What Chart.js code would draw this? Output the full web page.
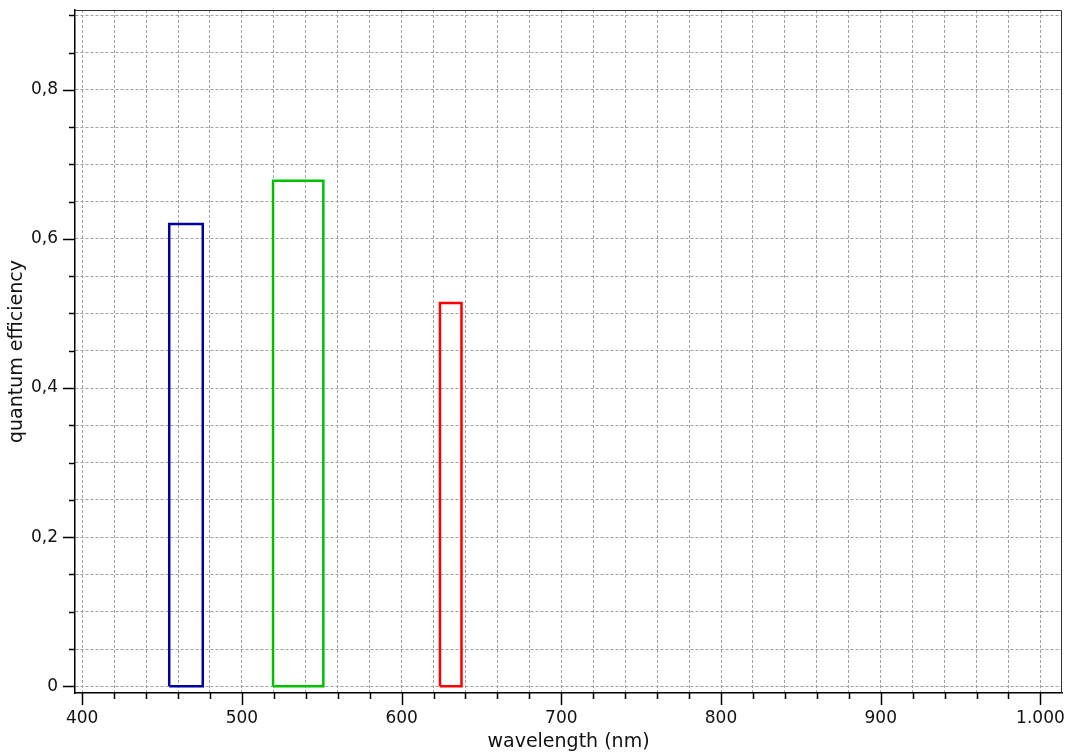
<!DOCTYPE html>
<html>
<head>
<meta charset="utf-8">
<script src="https://cdn.jsdelivr.net/npm/chart.js@4/dist/chart.umd.min.js"></script>
<style>
  html, body { margin: 0; padding: 0; background: #fff; }
  #wrap { width: 1068px; height: 753px; }
</style>
</head>
<body>
<div id="wrap"><canvas id="graphe"></canvas></div>
<script>
// bands : start / end wavelength (nm) and quantum efficiency
var bandStart = [454.5, 519.5, 624];
var bandEnd = [475.5, 551, 637.5];
var efficiency = [0.62, 0.678, 0.514];
var bandColors = ['#0000a0', '#00c000', '#ff0000'];

// tick labels
var xMajorTicks = [400, 500, 600, 700, 800, 900, 1000];
var xTickLabels = ['400', '500', '600', '700', '800', '900', '1.000'];
var yMajorTicks = [0, 0.2, 0.4, 0.6, 0.8];
var yTickLabels = ['0', '0,2', '0,4', '0,6', '0,8'];

var font = "'DejaVu Sans', Verdana, sans-serif";

// grid every 20 nm / 0.05
var xGrid = [];
for (var i = 400; i <= 1000; i += 20) xGrid.push(i);
var yGrid = [];
for (var j = 0; j <= 18; j++) yGrid.push(Math.round(j * 5) / 100);

function isMajor(list, v) {
    for (var k = 0; k < list.length; k++) {
        if (Math.abs(list[k] - v) < 1e-6) return k;
    }
    return -1;
}

//build one closed rectangle per band
var datasets = [];
for (var b = 0; b < bandStart.length; b++) {
    datasets.push({
        data: [
            {x: bandStart[b], y: 0},
            {x: bandStart[b], y: efficiency[b]},
            {x: bandEnd[b], y: efficiency[b]},
            {x: bandEnd[b], y: 0},
            {x: bandStart[b], y: 0}
        ],
        showLine: true,
        borderColor: bandColors[b],
        backgroundColor: bandColors[b],
        borderWidth: 2.5,
        pointRadius: 0,
        tension: 0,
        fill: false
    });
}

// ticks and frame drawn by hand
var frame = {
    id: 'frame',
    afterDraw: function(chart) {
        var ctx = chart.ctx;
        var a = chart.chartArea;
        var xs = chart.scales.x, ys = chart.scales.y;
        ctx.save();
        ctx.strokeStyle = '#000';
        ctx.lineWidth = 1.5;
        ctx.beginPath();
        xGrid.forEach(function(v) {
            var px = Math.round(xs.getPixelForValue(v)) + 0.5;
            var len = isMajor(xMajorTicks, v) >= 0 ? 12 : 6;
            ctx.moveTo(px, a.bottom);
            ctx.lineTo(px, a.bottom + len);
        });
        yGrid.forEach(function(v) {
            var py = Math.round(ys.getPixelForValue(v)) + 0.5;
            var len = isMajor(yMajorTicks, v) >= 0 ? 12 : 6;
            ctx.moveTo(a.left, py);
            ctx.lineTo(a.left - len, py);
        });
        ctx.stroke();
        ctx.lineWidth = 1;
        ctx.strokeStyle = '#333';
        ctx.beginPath();
        ctx.moveTo(a.left, a.top + 0.5);
        ctx.lineTo(a.right - 0.5, a.top + 0.5);
        ctx.lineTo(a.right - 0.5, a.bottom);
        ctx.stroke();
        ctx.restore();
    }
};

var ctx = document.getElementById('graphe').getContext('2d');
var myChart = new Chart(ctx, {
    type: 'scatter',
    data: { datasets: datasets },
    options: {
        responsive: true,
        maintainAspectRatio: false,
        animation: false,
        layout: { padding: { top: 10, right: 6, left: 0, bottom: 0 } },
        plugins: { legend: { display: false }, tooltip: { enabled: false } },
        scales: {
            x: {
                type: 'linear',
                min: 395.5,
                max: 1013.5,
                afterBuildTicks: function(scale) {
                    scale.ticks = xGrid.map(function(v) { return {value: v}; });
                },
                afterFit: function(scale) {
                    scale.height = 60;
                    scale.paddingLeft = 0;
                    scale.paddingRight = 0;
                },
                ticks: {
                    autoSkip: false,
                    maxRotation: 0,
                    padding: 15,
                    color: '#111',
                    font: { family: font, size: 17 },
                    callback: function(v) {
                        var k = isMajor(xMajorTicks, v);
                        return k >= 0 ? xTickLabels[k] : '';
                    }
                },
                grid: {
                    color: '#a0a0a0',
                    lineWidth: 1,
                    drawTicks: false
                },
                border: { color: '#000', width: 1.5, dash: [3, 2] },
                title: {
                    display: true,
                    text: 'wavelength (nm)',
                    color: '#111',
                    font: { family: font, size: 19 },
                    padding: { top: 0, bottom: 0 }
                }
            },
            y: {
                type: 'linear',
                min: -0.009,
                max: 0.907,
                afterBuildTicks: function(scale) {
                    scale.ticks = yGrid.map(function(v) { return {value: v}; });
                },
                afterFit: function(scale) {
                    scale.width = 75;
                    scale.paddingTop = 0;
                    scale.paddingBottom = 0;
                },
                ticks: {
                    autoSkip: false,
                    padding: 17,
                    color: '#111',
                    font: { family: font, size: 17 },
                    callback: function(v) {
                        var k = isMajor(yMajorTicks, v);
                        return k >= 0 ? yTickLabels[k] : '';
                    }
                },
                grid: {
                    color: '#a0a0a0',
                    lineWidth: 1,
                    drawTicks: false
                },
                border: { color: '#000', width: 1.5, dash: [3, 2] },
                title: {
                    display: true,
                    text: 'quantum efficiency',
                    color: '#111',
                    font: { family: font, size: 19 },
                    padding: { top: 6, bottom: 0 }
                }
            }
        }
    },
    plugins: [frame]
});
</script>
</body>
</html>
